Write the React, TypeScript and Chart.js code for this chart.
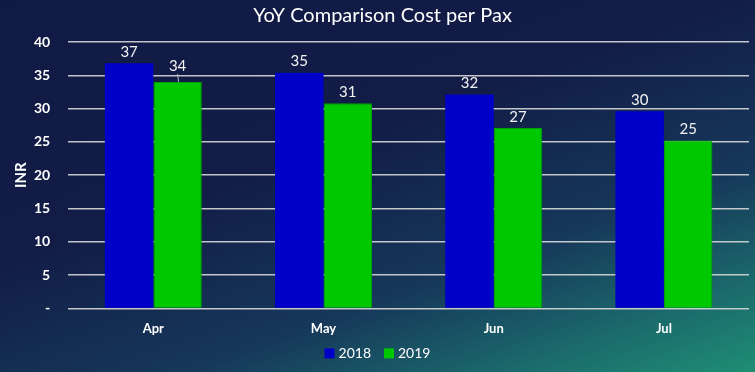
import React, { useEffect, useRef } from "react";
import { Chart, registerables } from "chart.js";

Chart.register(...registerables);

const categories = ["Apr", "May", "Jun", "Jul"];
const series2018 = [36.8, 35.4, 32.1, 29.6];
const series2019 = [34.0, 30.8, 27.1, 25.2];
const yTicks = [0, 5, 10, 15, 20, 25, 30, 35, 40];
const yTitle = "INR";

const FONT = "Lato, 'Open Sans', sans-serif";

const labelPlugin = {
  id: "barLabels",
  afterDatasetsDraw(chart: any) {
    const ctx = chart.ctx;
    ctx.save();
    ctx.font = `15px ${FONT}`;
    ctx.fillStyle = "#f2f2f2";
    ctx.textAlign = "center";
    ctx.textBaseline = "middle";
    chart.data.datasets.forEach((ds: any, di: number) => {
      const meta = chart.getDatasetMeta(di);
      meta.data.forEach((bar: any, i: number) => {
        const v = ds.data[i];
        const prev = di > 0 ? chart.getDatasetMeta(di - 1).data[i] : null;
        let y = bar.y - 11;
        if (prev && Math.abs(prev.y - bar.y) < 22) {
          y = bar.y - 16;
          ctx.strokeStyle = "#bbbbbb";
          ctx.lineWidth = 1;
          ctx.beginPath();
          ctx.moveTo(bar.x + 1, bar.y);
          ctx.lineTo(bar.x, y + 8);
          ctx.stroke();
        }
        ctx.fillText(String(Math.round(v)), bar.x, y);
      });
    });

    // custom legend
    const ca = chart.chartArea;
    const ly = ca.bottom + 45;
    ctx.font = `14px ${FONT}`;
    ctx.textAlign = "left";
    const items = chart.data.datasets.map((ds: any) => ({
      label: ds.label,
      color: ds.backgroundColor,
      w: ctx.measureText(ds.label).width,
    }));
    const box = 10;
    const boxGap = 4;
    const itemGap = 13;
    const total =
      items.reduce((s: number, it: any) => s + box + boxGap + it.w, 0) +
      itemGap * (items.length - 1);
    let x = chart.width / 2 - total / 2;
    items.forEach((it: any) => {
      ctx.fillStyle = it.color;
      ctx.fillRect(x, ly - box / 2, box, box);
      x += box + boxGap;
      ctx.fillStyle = "#ffffff";
      ctx.fillText(it.label, x, ly);
      x += it.w + itemGap;
    });

    // y axis title
    ctx.translate(ca.left - 47, (ca.top + ca.bottom) / 2);
    ctx.rotate(-Math.PI / 2);
    ctx.textAlign = "center";
    ctx.font = `bold 15px ${FONT}`;
    ctx.fillStyle = "#ffffff";
    ctx.fillText(yTitle, 0, 0);
    ctx.restore();
  },
};

export default function App() {
  const ref = useRef<HTMLCanvasElement | null>(null);
  useEffect(() => {
    if (!ref.current) return;
    const chart = new Chart(ref.current, {
      type: "bar",
      data: {
        labels: categories,
        datasets: [
          {
            label: "2018",
            data: series2018,
            backgroundColor: "#0000c8",
            borderWidth: 0,
            categoryPercentage: 0.57,
            barPercentage: 1.0,
          },
          {
            label: "2019",
            data: series2019,
            backgroundColor: "#00c800",
            borderColor: "#009e00",
            borderWidth: 1,
            categoryPercentage: 0.57,
            barPercentage: 1.0,
          },
        ],
      },
      options: {
        responsive: true,
        maintainAspectRatio: false,
        animation: false,
        layout: { padding: { left: 16, right: 6, top: 0, bottom: 30 } },
        plugins: {
          title: {
            display: true,
            text: "YoY Comparison Cost per Pax",
            color: "#ffffff",
            font: { family: FONT, size: 20, weight: "normal" },
            padding: { top: 4, bottom: 14 },
          },
          legend: { display: false },
          tooltip: { enabled: false },
        },
        scales: {
          x: {
            grid: { display: false },
            border: { display: false },
            ticks: {
              color: "#ffffff",
              font: { family: FONT, size: 13, weight: "bold" },
              padding: 5,
            },
          },
          y: {
            min: 0,
            max: 40,
            afterBuildTicks(axis: any) {
              axis.ticks = yTicks.map((v) => ({ value: v }));
            },
            grid: {
              color: "rgba(215,215,215,0.9)",
              lineWidth: 1.5,
              drawTicks: false,
            },
            border: { display: false },
            ticks: {
              color: "#ffffff",
              font: { family: FONT, size: 14, weight: "bold" },
              padding: 18,
              callback: (v: any) => (Number(v) === 0 ? "-" : String(v)),
            },
          },
        },
      },
      plugins: [labelPlugin],
    });
    return () => chart.destroy();
  }, []);

  return (
    <div
      style={{
        position: "fixed",
        left: 0,
        top: 0,
        width: 755,
        height: 372,
        background:
          "linear-gradient(160deg, #111a44 0%, #121c46 40%, #16385a 68%, #1b6a6c 86%, #1f8e74 100%)",
      }}
    >
      <canvas ref={ref} />
    </div>
  );
}
